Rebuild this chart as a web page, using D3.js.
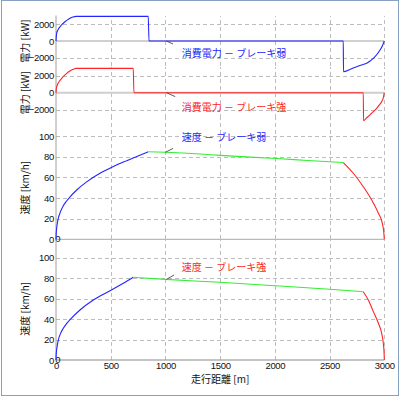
<!DOCTYPE html>
<meta charset="utf-8">
<style>
body { margin: 0; background: #fff; }
svg { display: block; }
.grid line { stroke: #bdbdbd; stroke-dasharray: 4,3; shape-rendering: crispEdges; }
.grid path { stroke-width: 0; }
.ticks path, .ticks line { display: none; }
.ticks text, .num { font-family: "Liberation Sans", Arial, sans-serif; font-size: 9.5px; letter-spacing: -0.3px; fill: #111; }
.jp { font-family: "Noto Sans CJK JP", sans-serif; font-size: 10px; }
.curve { fill: none; stroke-width: 1.1px; }
</style>
<body>
<script src="https://d3js.org/d3.v7.min.js"></script>
<script>
// distance ticks
var distTicks = [0, 500, 1000, 1500, 2000, 2500, 3000];
var powerTicks = [-2000, 0, 2000];
var speedTicks = [0, 20, 40, 60, 80, 100];

// power, brake weak [m], [kW]
var powWeakX = [0, 3, 6, 15, 25, 37, 55, 82, 105, 128, 155, 183, 843, 850, 2625, 2627, 2690, 2748, 2800, 2839, 2870, 2900, 2930, 2961, 2985, 3000];
var powWeakY = [0, 600, 920, 1250, 1500, 1710, 2000, 2310, 2540, 2720, 2870, 2950, 2950, 0, 0, -3680, -3380, -3080, -2850, -2680, -2400, -2080, -1650, -1080, -500, 0];

// power, brake strong
var powStrongX = [0, 3, 12, 30, 52, 75, 98, 120, 143, 165, 183, 706, 712, 2808, 2810, 2840, 2869, 2900, 2930, 2955, 2976, 2990, 3000];
var powStrongY = [0, 500, 910, 1350, 1700, 2020, 2300, 2520, 2690, 2810, 2890, 2890, 0, 0, -3310, -2960, -2630, -2250, -1850, -1450, -1070, -650, 0];

// speed, brake weak [km/h]
var spdWeakAccX = [0, 2, 6, 12, 21, 40, 67, 95, 128, 189, 280, 402, 524, 646, 750, 843];
var spdWeakAccY = [0, 6, 10.5, 15.5, 20.3, 26.5, 32.5, 36.8, 41, 47.7, 55.6, 63.9, 70.5, 76.1, 80.6, 84.8];
var spdWeakCoastX = [843, 1000, 1316, 1500, 2017, 2300, 2625];
var spdWeakCoastY = [84.8, 84.2, 82.5, 81.2, 78.2, 76.3, 74.3];
var spdWeakBrakeX = [2625, 2717, 2808, 2885, 2946, 2982, 2995, 3000];
var spdWeakBrakeY = [74.3, 63.9, 50.9, 38, 25.2, 15.5, 7, 0];

// speed, brake strong
var spdStrongAccX = [0, 2, 6, 12, 21, 40, 67, 95, 128, 219, 341, 494, 615, 706];
var spdStrongAccY = [0, 6, 10, 14.5, 19.5, 25.5, 31, 35.3, 39.3, 48.8, 58.5, 67.6, 74.8, 80.7];
var spdStrongCoastX = [706, 1000, 1500, 2000, 2500, 2808];
var spdStrongCoastY = [80.7, 78.7, 75.8, 72.5, 69, 66.6];
var spdStrongBrakeX = [2808, 2854, 2900, 2946, 2976, 2991, 2998, 3000];
var spdStrongBrakeY = [66.6, 58.5, 47.2, 35.8, 26, 16.3, 7, 0];

// annotation labels
var labels = ["消費電力 － ブレーキ弱", "消費電力 － ブレーキ強", "速度 － ブレーキ弱", "速度 － ブレーキ強"];
var labelX = 1150;
var labelY = [-1500, -1700, 99, 90];
var leadFrom = [[1010, 0], [1010, 0], [1000, 84.2], [1010, 78.7]];
var leadTo = [[1070, -360], [1090, -470], [1070, 88], [1080, 83]];

var W = 401, H = 398;
var svg = d3.select("body").append("svg")
    .attr("width", W)
    .attr("height", H);

// window frame
svg.append("rect")
    .attr("x", 1.5).attr("y", 0.5)
    .attr("width", 397).attr("height", 395)
    .attr("fill", "#fff")
    .attr("stroke", "#86a0c4");

var x = d3.scaleLinear().domain([0, 3000]).range([56, 384.3]);
var fmt = d3.format("d");

var blue = "#2424ff", red = "#ff2424", green = "#33ee33";

// panels: power weak, power strong, speed weak, speed strong
var panels = [
  { dom: [-3000, 3000], rng: [66, 16], ticks: powerTicks, ylab: "電力 [kW]", zero: "#a0a0a0", zw: 1,
    series: [[powWeakX, powWeakY, blue]], col: blue },
  { dom: [-3000, 3000], rng: [118, 67.4], ticks: powerTicks, ylab: "電力 [kW]", zero: "#cfcfcf", zw: 2,
    series: [[powStrongX, powStrongY, red]], col: red },
  { dom: [0, 120], rng: [239.3, 115.3], ticks: speedTicks, ylab: "速度 [km/h]", zero: "#a8a8a8", zw: 1,
    series: [[spdWeakAccX, spdWeakAccY, blue], [spdWeakCoastX, spdWeakCoastY, green], [spdWeakBrakeX, spdWeakBrakeY, red]], col: blue },
  { dom: [0, 120], rng: [360, 237], ticks: speedTicks, ylab: "速度 [km/h]", zero: "#8a8a8a", zw: 1,
    series: [[spdStrongAccX, spdStrongAccY, blue], [spdStrongCoastX, spdStrongCoastY, green], [spdStrongBrakeX, spdStrongBrakeY, red]], col: red }
];

panels.forEach(function(p, i) {
  var y = d3.scaleLinear().domain(p.dom).range(p.rng);
  p.y = y;
  var top = p.rng[1], bot = p.rng[0];

  // vertical gridlines
  svg.append("g")
      .attr("class", "grid")
      .attr("transform", "translate(0," + bot + ")")
      .call(d3.axisBottom(x).tickValues(distTicks.slice(1)).tickSize(-(bot - top)).tickFormat(""));

  // horizontal gridlines
  svg.append("g")
      .attr("class", "grid")
      .attr("transform", "translate(56,0)")
      .call(d3.axisLeft(y).tickValues(p.ticks.filter(function(d) { return d !== 0; }))
          .tickSize(-(x.range()[1] - 56)).tickFormat(""));

  // zero line
  svg.append("line")
      .attr("x1", x(0)).attr("x2", x(3000))
      .attr("y1", y(0)).attr("y2", y(0))
      .attr("stroke", p.zero)
      .attr("stroke-width", p.zw);

  // y tick labels
  svg.append("g")
      .attr("class", "ticks")
      .attr("transform", "translate(56.5,0)")
      .call(d3.axisLeft(y).tickValues(p.ticks).tickFormat(fmt).tickSize(0).tickPadding(2.5));

  // y label
  var mid = (p.dom[0] + p.dom[1]) / 2;
  if (i >= 2) mid = 50;
  svg.append("text")
      .attr("class", "jp")
      .attr("transform", "translate(29," + y(mid) + ") rotate(-90)")
      .attr("text-anchor", "middle")
      .attr("fill", "#111")
      .text(p.ylab);
});

// extra zero at speed panels
[2, 3].forEach(function(i) {
  svg.append("text")
      .attr("class", "num")
      .attr("x", 55.3).attr("y", panels[i].y(0))
      .attr("dy", "0.32em")
      .text("0");
});

// y axis line
svg.append("line")
    .attr("x1", 56).attr("x2", 56)
    .attr("y1", 15.5).attr("y2", 360)
    .attr("stroke", "#a0a0a0");

// x tick labels
svg.append("g")
    .attr("class", "ticks")
    .attr("transform", "translate(0,360)")
    .call(d3.axisBottom(x).tickValues(distTicks).tickFormat(fmt).tickSize(0).tickPadding(2.5));

// x label
svg.append("text")
    .attr("class", "jp")
    .attr("x", (x(0) + x(3000)) / 2)
    .attr("y", 383)
    .attr("text-anchor", "middle")
    .attr("fill", "#111")
    .text("走行距離 [m]");

// curves
panels.forEach(function(p) {
  var line = d3.line()
      .x(function(d) { return x(d[0]); })
      .y(function(d) { return p.y(d[1]); })
      .curve(d3.curveMonotoneX);
  p.series.forEach(function(s) {
    var pts = s[0].map(function(v, k) { return [v, s[1][k]]; });
    svg.append("path")
        .datum(pts)
        .attr("class", "curve")
        .attr("stroke", s[2])
        .attr("d", line);
  });
});

// annotations
panels.forEach(function(p, i) {
  svg.append("line")
      .attr("x1", x(leadFrom[i][0])).attr("y1", p.y(leadFrom[i][1]))
      .attr("x2", x(leadTo[i][0])).attr("y2", p.y(leadTo[i][1]))
      .attr("stroke", "#333")
      .attr("stroke-width", 0.8);
  svg.append("text")
      .attr("class", "jp")
      .attr("x", x(labelX))
      .attr("y", p.y(labelY[i]))
      .attr("dy", "0.36em")
      .attr("fill", p.col)
      .text(labels[i]);
});
</script>
</body>
